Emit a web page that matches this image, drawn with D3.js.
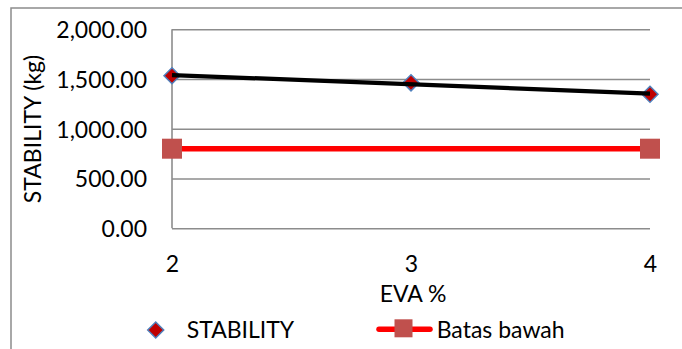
<!DOCTYPE html>
<html>
<head>
<meta charset="utf-8">
<script src="https://cdn.jsdelivr.net/npm/d3@7"></script>
<style>
  html, body { margin: 0; padding: 0; background: #fff; }
  svg { display: block; }
  text { font-family: Lato, "Open Sans", sans-serif; fill: #000; }
</style>
</head>
<body>
<svg id="chart" width="682" height="349"></svg>
<script>
// EVA content (%) on the x axis
const evaPercent = [2, 3, 4];
// Marshall stability (kg) for each EVA content
const stability = [1533, 1462, 1347];
// Lower limit for stability (kg), given at the two ends of the range
const batasX = [2, 4];
const batasBawah = [800, 800];
// Value axis ticks
const yTicks = [0, 500, 1000, 1500, 2000];

const svg = d3.select("#chart");
const W = 682, H = 349;
const plot = { left: 172, right: 650, top: 29.3, bottom: 228.3 };
const FONT = 23;

// Outer chart frame (runs past the right and bottom edges)
svg.append("rect")
  .attr("x", 11).attr("y", 8)
  .attr("width", W + 20).attr("height", H + 20)
  .attr("fill", "none").attr("stroke", "#8c8c8c").attr("stroke-width", 1.5);

const x = d3.scalePoint().domain(evaPercent).range([plot.left, plot.right]);
const y = d3.scaleLinear().domain([0, 2000]).range([plot.bottom, plot.top]);

// Horizontal gridlines and value labels
const yAxis = d3.axisLeft(y).tickValues(yTicks)
  .tickFormat(d3.format(",.2f"))
  .tickSize(-(plot.right - plot.left)).tickPadding(25);
const gy = svg.append("g").attr("transform", `translate(${plot.left},0)`).call(yAxis);
gy.select(".domain").remove();
gy.selectAll(".tick line").attr("stroke", "#8c8c8c").attr("stroke-width", 1.6);
gy.selectAll(".tick text")
  .attr("font-size", FONT).attr("dy", "0.36em").attr("fill", "#000");

// Vertical value axis line
svg.append("line")
  .attr("x1", plot.left).attr("x2", plot.left)
  .attr("y1", plot.top).attr("y2", plot.bottom)
  .attr("stroke", "#8c8c8c").attr("stroke-width", 1.6);

// Category axis labels
const xAxis = d3.axisBottom(x).tickSize(0).tickPadding(0);
const gx = svg.append("g").attr("transform", `translate(0,${plot.bottom})`).call(xAxis);
gx.select(".domain").remove();
gx.selectAll(".tick text")
  .attr("font-size", FONT).attr("dy", null).attr("y", 272.3 - plot.bottom)
  .attr("fill", "#000");

// Axis titles
svg.append("text")
  .attr("x", (plot.left + plot.right) / 2 + 2).attr("y", 301.7)
  .attr("text-anchor", "middle").attr("font-size", FONT)
  .text("EVA %");
svg.append("text")
  .attr("transform", "translate(40.5,129) rotate(-90)")
  .attr("text-anchor", "middle").attr("font-size", FONT)
  .text("STABILITY (kg)");

// Lower limit series: red line with square markers
const line = d3.line().x((d, i) => x(batasX[i])).y(d => y(d));
svg.append("path").datum(batasBawah)
  .attr("d", line).attr("fill", "none")
  .attr("stroke", "#ff0000").attr("stroke-width", 5.5);
const SQ = 20;
svg.selectAll(".sq").data(batasBawah).join("rect")
  .attr("class", "sq")
  .attr("x", (d, i) => x(batasX[i]) - SQ / 2)
  .attr("y", d => y(d) - SQ / 2)
  .attr("width", SQ).attr("height", SQ)
  .attr("fill", "#c0504d");

// Stability markers: diamonds
const diamond = (cx, cy, r) => `M${cx},${cy - r}L${cx + r},${cy}L${cx},${cy + r}L${cx - r},${cy}Z`;
svg.selectAll(".dm").data(stability).join("path")
  .attr("class", "dm")
  .attr("d", (d, i) => diamond(x(evaPercent[i]), y(d), 8))
  .attr("fill", "#c00000").attr("stroke", "#4f81bd").attr("stroke-width", 1.5);

// Linear trend of stability (least squares), drawn over the markers
const n = evaPercent.length;
const mx = d3.mean(evaPercent), my = d3.mean(stability);
const slope = d3.sum(evaPercent, (xv, i) => (xv - mx) * (stability[i] - my)) /
              d3.sum(evaPercent, xv => (xv - mx) * (xv - mx));
const trend = [evaPercent[0], evaPercent[n - 1]].map(xv => [x(xv), y(my + slope * (xv - mx))]);
svg.append("path")
  .attr("d", d3.line()(trend)).attr("fill", "none")
  .attr("stroke", "#000").attr("stroke-width", 4.2);

// Legend
const legY = 330;
svg.append("path")
  .attr("d", diamond(155.7, legY, 8))
  .attr("fill", "#c00000").attr("stroke", "#4f81bd").attr("stroke-width", 1.5);
svg.append("text").attr("x", 186.7).attr("y", 338).attr("font-size", FONT).text("STABILITY");
svg.append("line")
  .attr("x1", 379).attr("x2", 430).attr("y1", legY - 0.7).attr("y2", legY - 0.7)
  .attr("stroke", "#ff0000").attr("stroke-width", 5.5).attr("stroke-linecap", "round");
svg.append("rect")
  .attr("x", 404 - SQ / 2 + 0.5).attr("y", 328.3 - SQ / 2 + 1).attr("width", 18).attr("height", 18)
  .attr("fill", "#c0504d");
svg.append("text").attr("x", 436.7).attr("y", 338).attr("font-size", FONT).text("Batas bawah");
</script>
</body>
</html>
